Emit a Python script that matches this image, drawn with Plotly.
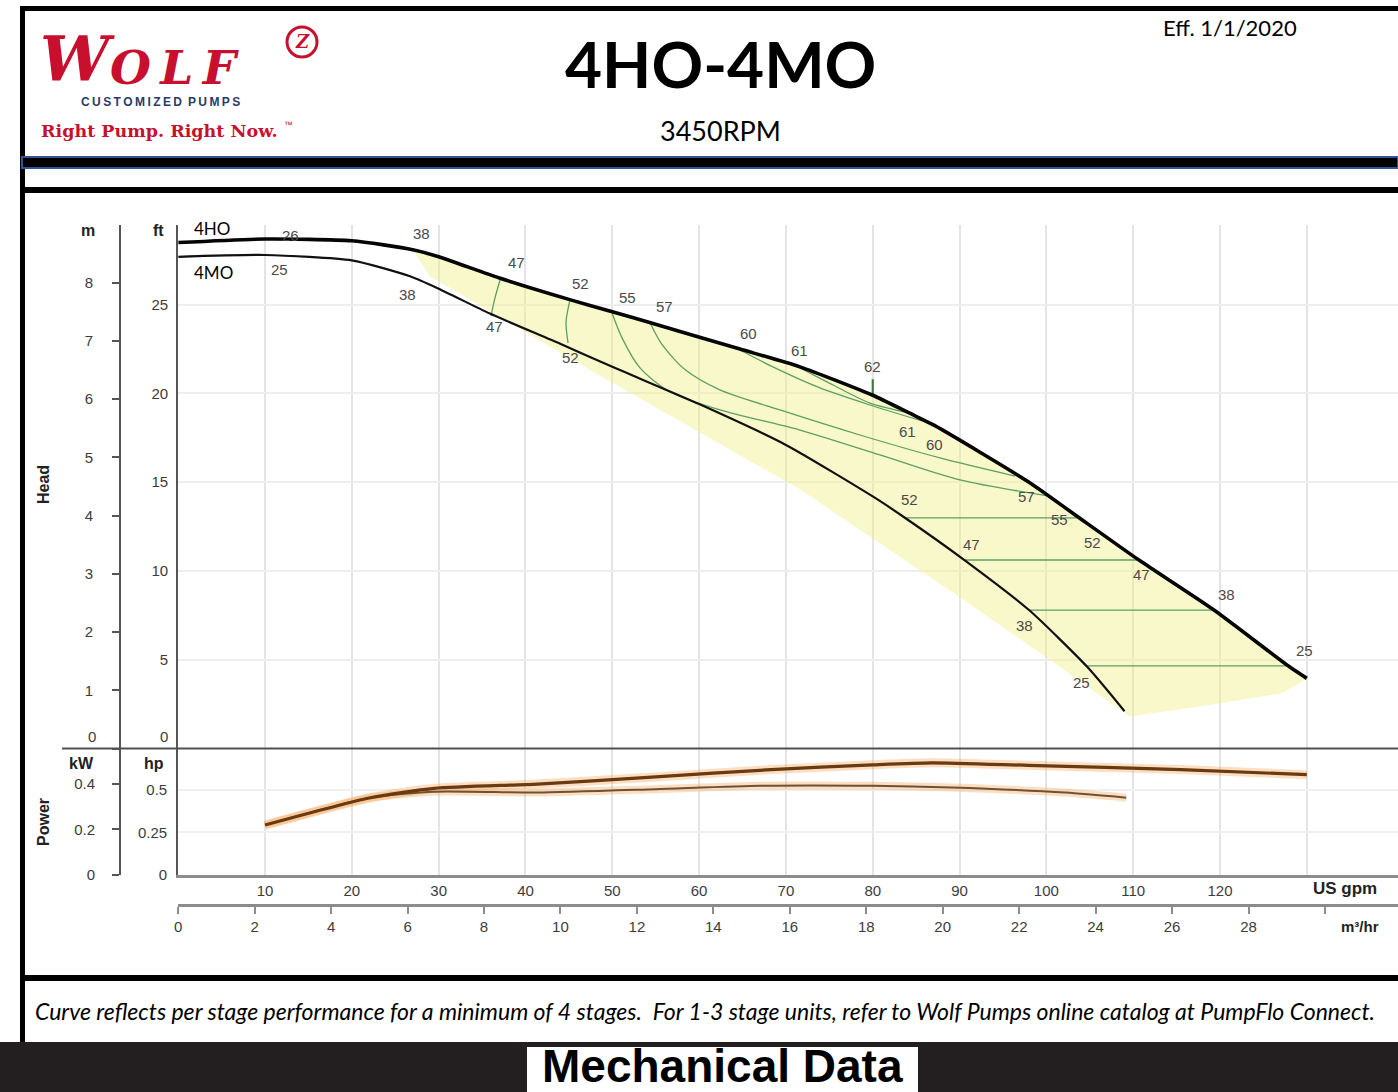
import plotly.graph_objects as go

W, H = 1398, 1092

# ---------------- data ----------------
# Head curves (US gpm, ft)
gpm_4ho = [0, 10, 20, 27, 30, 37, 45, 50, 54.3, 64.7, 71.6, 80, 84.2, 87.1, 98, 103.2, 110.7, 119.3, 128, 130]
ft_4ho = [28.5, 28.7, 28.6, 28.1, 27.7, 26.5, 25.3, 24.6, 24.0, 22.5, 21.5, 19.9, 18.9, 18.2, 15.0, 13.2, 10.6, 7.8, 4.6, 3.95]

gpm_4mo = [0, 10, 20, 26.7, 30, 35.9, 44, 50, 60, 70, 80, 83.7, 90.6, 98, 104.7, 109]
ft_4mo = [27.7, 27.8, 27.5, 26.6, 25.9, 24.5, 22.8, 21.5, 19.4, 17.1, 14.2, 13.0, 10.6, 7.8, 4.6, 2.1]

# Power curves (US gpm, hp)
pw_gpm_4ho = [10, 22, 29.5, 41.4, 55, 68.3, 80, 86.8, 97.9, 115.5, 130]
pw_hp_4ho = [0.294, 0.453, 0.51, 0.535, 0.577, 0.62, 0.648, 0.66, 0.645, 0.62, 0.59]
pw_gpm_4mo = [10, 22, 29.5, 41.4, 55, 67, 80, 89.1, 102.2, 109.2]
pw_hp_4mo = [0.294, 0.453, 0.49, 0.485, 0.505, 0.525, 0.525, 0.515, 0.485, 0.455]

# Efficiency contours (US gpm, ft)
eff_lines = {
    "47L": ([37.07, 36.49, 36.03], [26.39, 25.38, 24.37]),
    "52L": ([45.13, 44.67, 44.90], [25.27, 24.03, 22.85]),
    "55": ([49.97, 51.12, 53.19, 56.65, 62.40, 71.62, 80.83, 90.05, 100.18],
           [24.53, 23.13, 21.44, 20.08, 19.07, 17.94, 16.54, 15.13, 14.23]),
    "57": ([54.34, 55.72, 58.37, 62.40, 69.31, 78.52, 87.74, 96.38],
           [24.0, 22.76, 21.35, 20.20, 19.07, 17.66, 16.37, 15.35]),
    "60": ([64.71, 68.74, 73.93, 79.68, 87.17], [22.45, 21.44, 20.31, 19.35, 18.23]),
    "61": ([71.62, 75.65, 79.68, 84.28], [21.44, 20.42, 19.46, 18.90]),
    "52R": ([83.7, 103.65], [12.99, 12.99]),
    "47R": ([90.6, 110.7], [10.62, 10.62]),
    "38R": ([98.0, 119.3], [7.8, 7.8]),
    "25R": ([104.7, 128.0], [4.65, 4.65]),
}
eff62_gpm = [80, 80]
eff62_ft = [19.9, 20.8]

# Shaded operating region lower boundary (US gpm, ft)
fill_lo_gpm = [130, 127, 118, 109.6, 100.4, 88.9, 71.6, 48.6, 29.0, 27]
fill_lo_ft = [3.9, 3.1, 2.4, 1.8, 5.0, 8.9, 14.6, 21.0, 26.6, 28.1]

# Efficiency labels (text, gpm, ft)
eff_labels = [
    ("26", 12.9, 28.9), ("38", 28.0, 29.0), ("47", 39.0, 27.4), ("52", 46.3, 26.2),
    ("55", 51.7, 25.4), ("57", 56.0, 24.9), ("60", 65.7, 23.4), ("61", 71.6, 22.4),
    ("62", 80.0, 21.5), ("61", 84.0, 17.85), ("60", 87.1, 17.1), ("57", 97.7, 14.2),
    ("55", 101.5, 12.9), ("52", 105.3, 11.6), ("47", 111.0, 9.8), ("38", 120.8, 8.7),
    ("25", 129.7, 5.5),
    ("25", 11.7, 27.0), ("38", 26.4, 25.6), ("47", 36.4, 23.8), ("52", 45.2, 22.0),
    ("52", 84.2, 14.0), ("47", 91.4, 11.5), ("38", 97.5, 6.95), ("25", 104.0, 3.7),
]

gpm_tickvals = [10, 20, 30, 40, 50, 60, 70, 80, 90, 100, 110, 120, 130]
gpm_ticktext = ["10", "20", "30", "40", "50", "60", "70", "80", "90", "100", "110", "120", ""]
m3h_tickvals = [0, 2, 4, 6, 8, 10, 12, 14, 16, 18, 20, 22, 24, 26, 28, 30]
m3h_ticktext = ["0", "2", "4", "6", "8", "10", "12", "14", "16", "18", "20", "22", "24", "26", "28", ""]
ft_tickvals = [0, 5, 10, 15, 20, 25]
ft_ticktext = ["", "5", "10", "15", "20", "25"]
m_tickvals = [0, 1, 2, 3, 4, 5, 6, 7, 8]
m_ticktext = ["", "1", "2", "3", "4", "5", "6", "7", "8"]
hp_tickvals = [0, 0.25, 0.5]
hp_ticktext = ["0", "0.25", "0.5"]
kw_tickvals = [0, 0.2, 0.4]
kw_ticktext = ["0", "0.2", "0.4"]

GPM_MAX = 140.5
FT_MAX = 29.49
HP_MAX = 0.744

# ---------------- helpers ----------------
def px(x):
    return x / W

def py(y):
    return 1 - y / H

SANS = "Liberation Sans, Arial, sans-serif"
TICKFONT = dict(family=SANS, size=15, color="#3c3c3c")

fig = go.Figure()

# Shaded region
hi_g = [g for g in gpm_4ho if g >= 27]
hi_f = [f for g, f in zip(gpm_4ho, ft_4ho) if g >= 27]
fig.add_trace(go.Scatter(x=hi_g + fill_lo_gpm, y=hi_f + fill_lo_ft, mode="lines", fill="toself",
                         fillcolor="rgba(240,240,140,0.45)", line=dict(width=0),
                         hoverinfo="skip", showlegend=False, xaxis="x", yaxis="y"))

# Efficiency contours
for key, (gx, fy) in eff_lines.items():
    fig.add_trace(go.Scatter(x=gx, y=fy, mode="lines",
                             line=dict(color="#5f9e62", width=1.3, shape="spline", smoothing=0.8),
                             hoverinfo="skip", showlegend=False, xaxis="x", yaxis="y"))
fig.add_trace(go.Scatter(x=eff62_gpm, y=eff62_ft, mode="lines",
                         line=dict(color="#3f7a45", width=2.2), hoverinfo="skip",
                         showlegend=False, xaxis="x", yaxis="y"))

# Head curves
fig.add_trace(go.Scatter(x=gpm_4mo, y=ft_4mo, mode="lines", name="4MO",
                         line=dict(color="#111111", width=2.2, shape="spline", smoothing=0.6),
                         showlegend=False, xaxis="x", yaxis="y"))
fig.add_trace(go.Scatter(x=gpm_4ho, y=ft_4ho, mode="lines", name="4HO",
                         line=dict(color="#050505", width=3.6, shape="spline", smoothing=0.6),
                         showlegend=False, xaxis="x", yaxis="y"))

# Power curves (glow + line)
for gx, hy, w in [(pw_gpm_4mo, pw_hp_4mo, 2.0), (pw_gpm_4ho, pw_hp_4ho, 3.0)]:
    fig.add_trace(go.Scatter(x=gx, y=hy, mode="lines",
                             line=dict(color="rgba(245,160,80,0.35)", width=w + 6, shape="spline", smoothing=0.6),
                             hoverinfo="skip", showlegend=False, xaxis="x", yaxis="y2"))
fig.add_trace(go.Scatter(x=pw_gpm_4mo, y=pw_hp_4mo, mode="lines",
                         line=dict(color="#6e5233", width=2.0, shape="spline", smoothing=0.6),
                         showlegend=False, xaxis="x", yaxis="y2"))
fig.add_trace(go.Scatter(x=pw_gpm_4ho, y=pw_hp_4ho, mode="lines",
                         line=dict(color="#6a3a10", width=3.2, shape="spline", smoothing=0.6),
                         showlegend=False, xaxis="x", yaxis="y2"))

# empty traces so that the secondary axes are created
fig.add_trace(go.Scatter(x=[], y=[], xaxis="x2", yaxis="y", showlegend=False))
fig.add_trace(go.Scatter(x=[], y=[], xaxis="x", yaxis="y3", showlegend=False))
fig.add_trace(go.Scatter(x=[], y=[], xaxis="x", yaxis="y4", showlegend=False))

# ---------------- axes ----------------
x_dom = [px(178.2), 1]
head_dom = [py(748.5), py(225)]
pow_dom = [py(875), py(748.5)]

fig.update_layout(
    width=W, height=H, margin=dict(l=0, r=0, t=0, b=0, pad=0, autoexpand=False),
    paper_bgcolor="white", plot_bgcolor="white", showlegend=False,
    xaxis=dict(domain=x_dom, range=[0, GPM_MAX], anchor="y2", tickmode="array",
               tickvals=gpm_tickvals, ticktext=gpm_ticktext, ticks="", showgrid=True,
               gridcolor="#e4e4e4", gridwidth=2, showline=True, linecolor="#8c8c8c", linewidth=3,
               zeroline=False, tickfont=TICKFONT, fixedrange=True, automargin=False),
    xaxis2=dict(overlaying="x", anchor="free", position=py(905), range=[0, GPM_MAX * 0.2271247],
                tickmode="array", tickvals=m3h_tickvals, ticktext=m3h_ticktext, ticks="outside",
                ticklen=7, tickwidth=2, tickcolor="#8c8c8c", showgrid=False, showline=True,
                linecolor="#8c8c8c", linewidth=3, zeroline=False, side="bottom", tickfont=TICKFONT,
                automargin=False),
    yaxis=dict(domain=head_dom, range=[0, FT_MAX], anchor="x", tickmode="array",
               tickvals=ft_tickvals, ticktext=ft_ticktext, ticks="", showgrid=True, gridcolor="#eeeeee",
               gridwidth=2, showline=True, linecolor="#555555", linewidth=2, zeroline=False,
               tickfont=TICKFONT, ticklabelstandoff=5, automargin=False),
    yaxis3=dict(overlaying="y", anchor="free", position=px(120), range=[0, FT_MAX / 3.28084],
                tickmode="array", tickvals=m_tickvals, ticktext=m_ticktext, ticks="outside", ticklen=7,
                tickwidth=2, tickcolor="#555555", showgrid=False, showline=True, linecolor="#555555",
                linewidth=2, zeroline=False, side="left", tickfont=TICKFONT, ticklabelstandoff=16,
                automargin=False),
    yaxis2=dict(domain=pow_dom, range=[0, HP_MAX], anchor="x", tickmode="array",
                tickvals=hp_tickvals, ticktext=hp_ticktext, ticks="", showgrid=True,
                gridcolor="#f0f0f0", gridwidth=2, showline=True, linecolor="#555555", linewidth=2,
                zeroline=False, tickfont=TICKFONT, ticklabelstandoff=6, automargin=False),
    yaxis4=dict(overlaying="y2", anchor="free", position=px(120), range=[0, HP_MAX * 0.7457],
                tickmode="array", tickvals=kw_tickvals, ticktext=kw_ticktext, ticks="outside",
                ticklen=7, tickwidth=2, tickcolor="#555555", showgrid=False, showline=True,
                linecolor="#555555", linewidth=2, zeroline=False, side="left", tickfont=TICKFONT,
                ticklabelstandoff=14, automargin=False),
)

# ---------------- shapes (page frame) ----------------
shapes = []
def rect(x0, y0, x1, y1, fill, line_color=None, lw=0):
    shapes.append(dict(type="rect", xref="paper", yref="paper", x0=px(x0), x1=px(x1),
                       y0=py(y1), y1=py(y0), fillcolor=fill,
                       line=dict(color=line_color or fill, width=lw), layer="above"))

rect(20, 6, W, 11, "#000000")
rect(20, 6, 25, 1042, "#000000")
rect(22, 157, W, 168, "#000000", "#2f5597", 2)
rect(22, 187, W, 193, "#000000")
rect(22, 975, W, 981, "#000000")
rect(0, 1042, W, H, "#231f20")
rect(527, 1047, 918, H, "#ffffff")
shapes.append(dict(type="line", xref="paper", yref="paper", x0=px(62), x1=1, y0=py(748.5), y1=py(748.5),
                   line=dict(color="#505050", width=2), layer="above"))
shapes.append(dict(type="circle", xref="paper", yref="paper", x0=px(287), x1=px(317), y0=py(57), y1=py(27),
                   line=dict(color="#c8102e", width=3)))
fig.update_layout(shapes=shapes)

# ---------------- annotations ----------------
ann = []
def text(x, y, t, size, color="#000", family=SANS, xanchor="center", angle=0):
    ann.append(dict(xref="paper", yref="paper", x=px(x), y=py(y), text=t, showarrow=False,
                    xanchor=xanchor, yanchor="middle", textangle=angle,
                    font=dict(family=family, size=size, color=color)))

SERIF = "DejaVu Serif, Liberation Serif, serif"
# logo
text(38, 58, "<b><i>W</i></b>", 62, "#c8102e", SERIF, xanchor="left")
text(108, 67, "<b><i>O\u2009L\u2009F</i></b>", 47, "#c8102e", SERIF, xanchor="left")
text(302, 42, "<b><i>Z</i></b>", 18, "#c8102e", SERIF)
text(160, 102, "<b>C\u2009U\u2009S\u2009T\u2009O\u2009M\u2009I\u2009Z\u2009E\u2009D\u2002P\u2009U\u2009M\u2009P\u2009S</b>",
     12, "#2a3a6a", SANS)
text(159, 131, "<b>Right Pump. Right Now.</b>", 17.5, "#c8102e", SERIF)
text(288, 125, "™", 9, "#c8102e")

# title block
text(720, 63, "<b>4HO-4MO</b>", 64, "#000", "Lato, Carlito, sans-serif")
text(720, 130, "3450RPM", 27, "#000", "Lato, Carlito, sans-serif")
text(1230, 27, "Eff. 1/1/2020", 22, "#000", "Lato, Carlito, sans-serif")

# axis titles
text(88, 230, "<b>m</b>", 16, "#222")
text(158, 230, "<b>ft</b>", 16, "#222")
text(81, 763, "<b>kW</b>", 16, "#222")
text(154, 763, "<b>hp</b>", 16, "#222")
text(43, 485, "<b>Head</b>", 16, "#222", angle=-90)
text(43, 822, "<b>Power</b>", 16, "#222", angle=-90)
text(1345, 888, "<b>US gpm</b>", 17, "#222")
text(1360, 926, "<b>m³/hr</b>", 15, "#222")
# zero labels of the head axes (sit just above the panel divider)
text(92, 736, "0", 15, "#3c3c3c")
text(164, 736, "0", 15, "#3c3c3c")

# footer
text(705, 1011, "<i>Curve reflects per stage performance for a minimum of 4 stages.  For 1-3 stage units, refer to Wolf Pumps online catalog at PumpFlo Connect.</i>",
     23, "#000", "Lato, Carlito, sans-serif")
text(722, 1066, "<b>Mechanical Data</b>", 46, "#000", "Liberation Sans Narrow, Arial Narrow, Liberation Sans, sans-serif")

# curve names
for name, g, f in [("4HO", 1.6, 29.3), ("4MO", 1.6, 26.8)]:
    ann.append(dict(xref="x", yref="y", x=g, y=f, text=name, showarrow=False, xanchor="left",
                    yanchor="middle", font=dict(family="Lato, Carlito, sans-serif", size=17, color="#000")))

# efficiency labels
for t, g, f in eff_labels:
    ann.append(dict(xref="x", yref="y", x=g, y=f, text=t, showarrow=False, xanchor="center",
                    yanchor="middle", font=dict(family=SANS, size=15, color="#4a4a4a")))

fig.update_layout(annotations=ann)

post = (
    "document.documentElement.style.margin='0';"
    "document.body.style.margin='0';"
    "document.body.style.overflow='hidden';"
)
fig.write_html("out.html", config={"displayModeBar": False}, post_script=post)
